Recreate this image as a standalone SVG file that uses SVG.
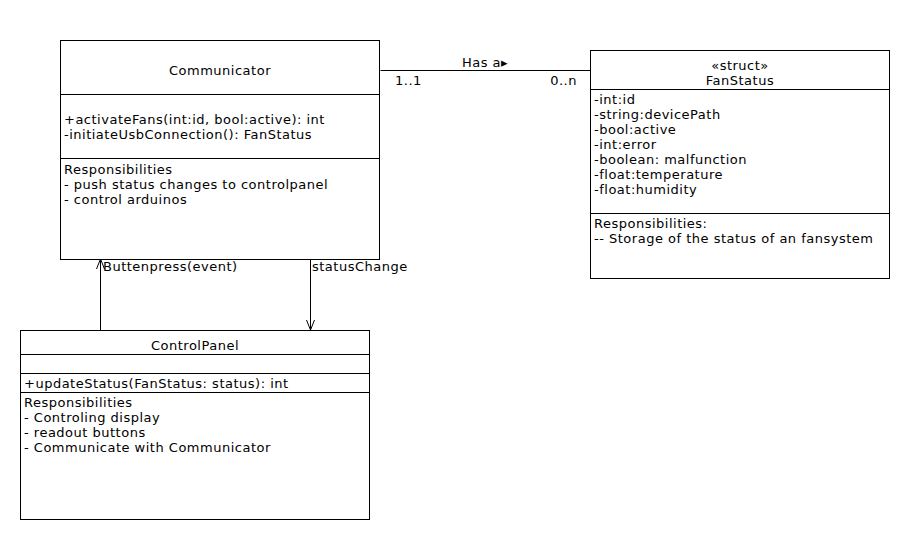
<svg xmlns="http://www.w3.org/2000/svg" width="910" height="540" viewBox="0 0 910 540">
<style>
text{font-family:"DejaVu Sans",sans-serif;font-size:13px;letter-spacing:0.5px;fill:#000}
.c{text-anchor:middle}
.box{fill:#fff;stroke:#000;stroke-width:1}
.ln{stroke:#000;stroke-width:1;fill:none}
</style>
<defs>
<marker id="open" viewBox="0 0 10 10" refX="10" refY="5" markerWidth="10" markerHeight="10" markerUnits="userSpaceOnUse" orient="auto">
<path d="M0,1 L10,5 L0,9" fill="none" stroke="#000" stroke-width="1"/>
</marker>
</defs>
<rect width="910" height="540" fill="#fff"/>
<g id="connectors">
<line class="ln" x1="380.5" y1="70.5" x2="590.5" y2="70.5"/>
<text x="485" y="67" class="c">Has a▸</text>
<text x="395" y="85">1..1</text>
<text x="577" y="85" text-anchor="end">0..n</text>
<line class="ln" x1="100.5" y1="330" x2="100.5" y2="259" marker-end="url(#open)"/>
<text x="103" y="271">Buttenpress(event)</text>
<line class="ln" x1="310.5" y1="259" x2="310.5" y2="330" marker-end="url(#open)"/>
<text x="312" y="271">statusChange</text>
</g>
<g id="communicator">
<rect class="box" x="60.5" y="40.5" width="319" height="219"/>
<line class="ln" x1="60.5" y1="94.5" x2="379.5" y2="94.5"/>
<line class="ln" x1="60.5" y1="158.5" x2="379.5" y2="158.5"/>
<text x="220" y="75" class="c">Communicator</text>
<text x="64" y="124">+activateFans(int:id, bool:active): int</text>
<text x="64" y="139">-initiateUsbConnection(): FanStatus</text>
<text x="64" y="174">Responsibilities</text>
<text x="64" y="189">- push status changes to controlpanel</text>
<text x="64" y="204">- control arduinos</text>
</g>
<g id="fanstatus">
<rect class="box" x="590.5" y="50.5" width="299" height="228"/>
<line class="ln" x1="590.5" y1="89.5" x2="889.5" y2="89.5"/>
<line class="ln" x1="590.5" y1="213.5" x2="889.5" y2="213.5"/>
<text x="740" y="70" class="c">«struct»</text>
<text x="740" y="85" class="c">FanStatus</text>
<text x="594" y="104">-int:id</text>
<text x="594" y="119">-string:devicePath</text>
<text x="594" y="134">-bool:active</text>
<text x="594" y="149">-int:error</text>
<text x="594" y="164">-boolean: malfunction</text>
<text x="594" y="179">-float:temperature</text>
<text x="594" y="194">-float:humidity</text>
<text x="594" y="228">Responsibilities:</text>
<text x="594" y="243">-- Storage of the status of an fansystem</text>
</g>
<g id="controlpanel">
<rect class="box" x="20.5" y="330.5" width="349" height="189"/>
<line class="ln" x1="20.5" y1="354.5" x2="369.5" y2="354.5"/>
<line class="ln" x1="20.5" y1="373.5" x2="369.5" y2="373.5"/>
<line class="ln" x1="20.5" y1="392.5" x2="369.5" y2="392.5"/>
<text x="195" y="350" class="c">ControlPanel</text>
<text x="24" y="388">+updateStatus(FanStatus: status): int</text>
<text x="24" y="407">Responsibilities</text>
<text x="24" y="422">- Controling display</text>
<text x="24" y="437">- readout buttons</text>
<text x="24" y="452">- Communicate with Communicator</text>
</g>
</svg>
